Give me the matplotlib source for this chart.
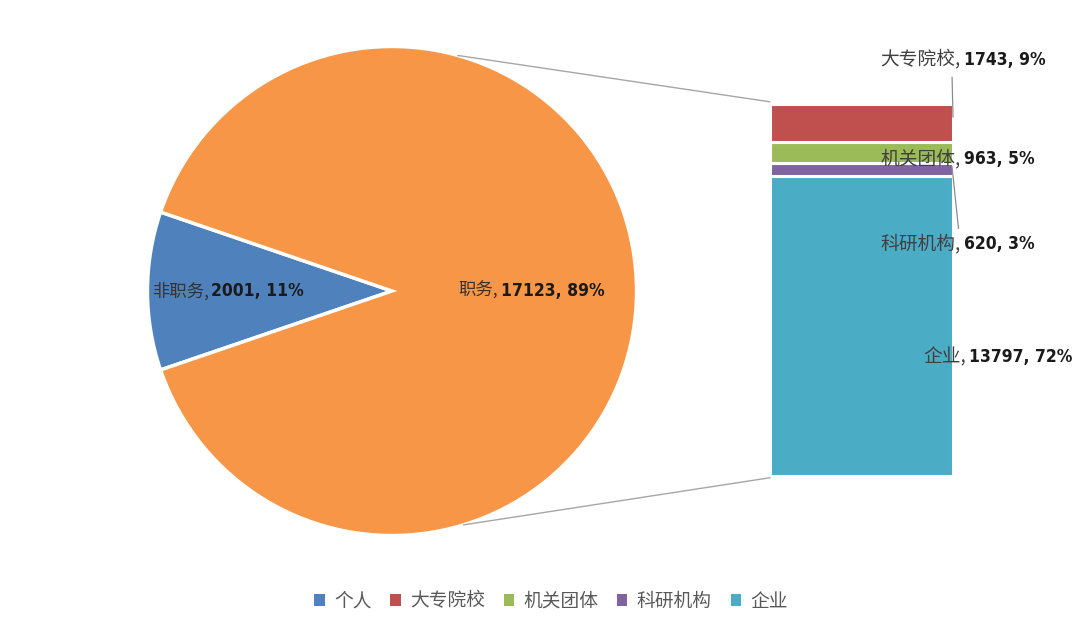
import matplotlib
matplotlib.use('Agg')
import matplotlib.pyplot as plt
from matplotlib.patches import ConnectionPatch, Patch
from matplotlib import font_manager
import numpy as np

plt.rcParams['font.family'] = ['Noto Sans CJK SC', 'DejaVu Sans']

# pie data
pie_names = ['非职务', '职务']
pie_values = [2001, 17123]
pie_pct = ['11%', '89%']
pie_colors = ['#4F81BD', '#F79646']

# bar data (breakdown of 职务), bottom to top
bar_names = ['企业', '科研机构', '机关团体', '大专院校']
bar_values = [13797, 620, 963, 1743]
bar_pct = ['72%', '3%', '5%', '9%']
bar_colors = ['#4BACC6', '#8064A2', '#9BBB59', '#C0504D']

legend_names = ['个人', '大专院校', '机关团体', '科研机构', '企业']
legend_colors = ['#4F81BD', '#C0504D', '#9BBB59', '#8064A2', '#4BACC6']


def narrow_font(size):
    # look for a condensed bold face for the numbers
    cands = []
    for f in font_manager.fontManager.ttflist:
        n = (f.name + ' ' + str(f.stretch) + ' ' + f.fname).lower()
        if ('narrow' in n or 'condensed' in n) and 'oblique' not in n and 'italic' not in n:
            w = f.weight if isinstance(f.weight, int) else 400
            cands.append((abs(w - 700), f.fname))
    if cands:
        cands.sort()
        return font_manager.FontProperties(fname=cands[0][1], size=size)
    return font_manager.FontProperties(family='DejaVu Sans', weight='bold', size=size - 2)


numfp = narrow_font(12.5)

W, H = 1088, 632
fig = plt.figure(figsize=(W / 100, H / 100), dpi=100)

# pie axes: centre (392, 291), radius 247 px
axp = fig.add_axes([145 / W, 1 - 538 / H, 494 / W, 494 / H])
start = 180 - 0.5 * 360 * pie_values[0] / sum(pie_values)
axp.pie(pie_values, colors=pie_colors, startangle=start, radius=1,
        wedgeprops=dict(edgecolor='white', linewidth=2.5))
axp.set_xlim(-1.01, 1.01)
axp.set_ylim(-1.01, 1.01)
axp.set_aspect('equal')
axp.axis('off')

pie_anchor = [(-0.75, 0.0), (0.435, 0.0)]
for name, val, pct, (x, y) in zip(pie_names, pie_values, pie_pct, pie_anchor):
    axp.text(x, y, name + ',', ha='right', va='center', color='#333333', fontsize=12.5)
    axp.text(x + 0.01, y, f'{val}, {pct}', ha='left', va='center',
             fontproperties=numfp, color='#1a1a1a')

# bar axes
axb = fig.add_axes([770 / W, 1 - 476 / H, 183 / W, 372 / H])
bottom = 0
for val, col in zip(bar_values, bar_colors):
    axb.bar(0.5, val, width=1, bottom=bottom, color=col, edgecolor='white', linewidth=2.2)
    bottom += val
total_bar = sum(bar_values)
axb.set_xlim(0, 1)
axb.set_ylim(0, total_bar)
axb.axis('off')

# labels next to the bar: (anchor x, anchor y) in bar data coords
bar_anchor = [(1.07, 5480), (1.04, 10680), (1.04, 14590), (1.04, 19150)]
for name, val, pct, (x, y) in zip(bar_names, bar_values, bar_pct, bar_anchor):
    axb.text(x, y, name + ',', ha='right', va='center', clip_on=False,
             fontsize=13.5, color='#404040')
    axb.text(x + 0.02, y, f'{val}, {pct}', ha='left', va='center', clip_on=False,
             fontproperties=numfp, color='#1a1a1a')

# leader lines
axb.plot([0.995, 1.0], [18350, total_bar - 600], color='#8c8c8c', lw=0.9, clip_on=False)
axb.plot([0.995, 1.03], [total_bar - bar_values[3] - bar_values[2] - 200, 11400],
         color='#8c8c8c', lw=0.9, clip_on=False)

# connecting lines from pie to bar
for ang, ybar in [(74.4, total_bar + 100), (-73.0, -80)]:
    t = np.deg2rad(ang)
    con = ConnectionPatch(xyA=(np.cos(t), np.sin(t)), coordsA=axp.transData,
                          xyB=(0, ybar), coordsB=axb.transData,
                          color='#a6a6a6', lw=1)
    fig.add_artist(con)

handles = [Patch(facecolor=c, edgecolor='none') for c in legend_colors]
fig.legend(handles, legend_names, loc='center', bbox_to_anchor=(551 / W, 1 - 601 / H),
           ncol=5, frameon=False, fontsize=13.5, labelcolor='#595959',
           handlelength=0.55, handleheight=0.55, handletextpad=0.5, columnspacing=1.0)

fig.savefig('out.png', dpi=100, facecolor='white')
